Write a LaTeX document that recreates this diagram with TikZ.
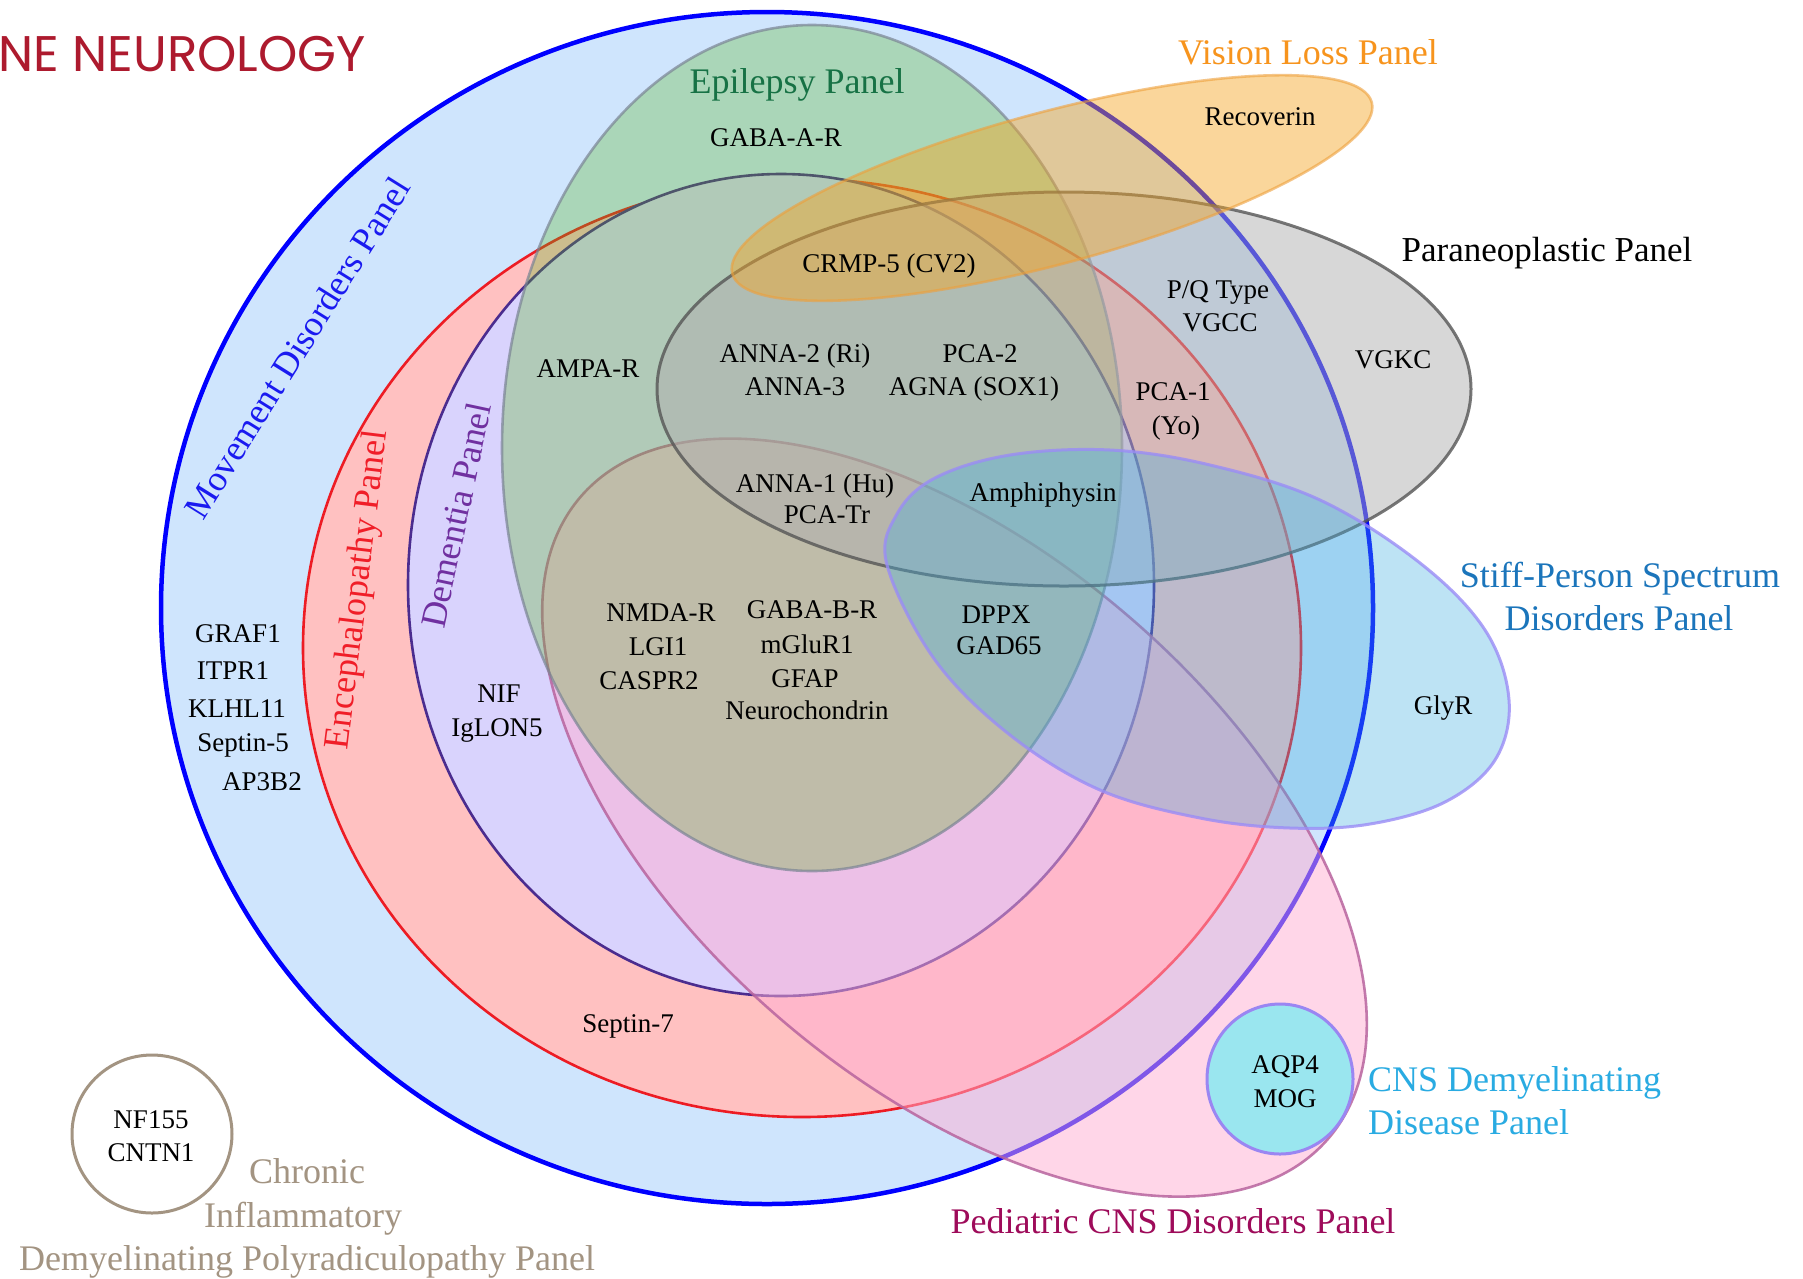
\documentclass[tikz,border=0pt]{standalone}
\usepackage{fontspec}
\setmainfont{Liberation Serif}
\newfontfamily\logofont{Poppins}
\definecolor{mvfill}{HTML}{CFE5FD}
\definecolor{mvline}{HTML}{0000FF}
\definecolor{enfill}{HTML}{FFC1C1}
\definecolor{enline}{HTML}{ED1C24}
\definecolor{defill}{HTML}{D9D3FD}
\definecolor{deline}{HTML}{4B2C8F}
\definecolor{pefill}{HTML}{FFAFD3}
\definecolor{peline}{HTML}{B8649E}
\definecolor{epfill}{HTML}{57B61B}
\definecolor{epline}{HTML}{7A8494}
\definecolor{pafill}{HTML}{B0B0B0}
\definecolor{paline}{HTML}{555555}
\definecolor{stfill}{HTML}{42AFE0}
\definecolor{stline}{HTML}{9A8CF6}
\definecolor{vifill}{HTML}{F5A623}
\definecolor{viline}{HTML}{EE9F3A}
\definecolor{cnfill}{HTML}{9AE6EF}
\definecolor{cnline}{HTML}{9A86F2}
\definecolor{ciline}{HTML}{A39482}
\definecolor{mvtext}{HTML}{1A1AF0}
\definecolor{entext}{HTML}{F01E28}
\definecolor{detext}{HTML}{7030A0}
\definecolor{eptext}{HTML}{177245}
\definecolor{vitext}{HTML}{F7941D}
\definecolor{sttext}{HTML}{1B75BB}
\definecolor{cntext}{HTML}{29ABE2}
\definecolor{petext}{HTML}{9E0B5A}
\definecolor{citext}{HTML}{A39482}
\definecolor{logored}{HTML}{AD1A2E}
\tikzset{
  item/.style={font=\fontsize{27}{32}\selectfont, anchor=base, inner sep=0pt, text=black},
  ptitle/.style={font=\fontsize{36}{42}\selectfont, anchor=base, inner sep=0pt},
  rtitle/.style={font=\fontsize{36}{42}\selectfont, anchor=center, inner sep=0pt},
}
\begin{document}
\begin{tikzpicture}[x=1pt,y=-1pt]
\useasboundingbox (0,0) rectangle (1803,1278);
\fill[white] (0,0) rectangle (1803,1278);

% Movement disorders
\fill[mvfill] (767,608) ellipse [x radius=606, y radius=596];
\draw[mvline, line width=4.5pt] (767,608) ellipse [x radius=606, y radius=596];
% Encephalopathy
\filldraw[fill=enfill, draw=enline, line width=2.6pt] (802,648) ellipse [x radius=499, y radius=469];
% Dementia
\filldraw[fill=defill, draw=deline, line width=2.6pt] (781,585) ellipse [x radius=373, y radius=411];
% Pediatric
\begin{scope}[shift={(954.5,817.6)}, rotate=-40.6]
\filldraw[fill=pefill, fill opacity=0.5, draw=peline, draw opacity=0.85, line width=2.6pt] (0,0) ellipse [x radius=492.7, y radius=266.1];
\end{scope}
% Epilepsy
\filldraw[fill=epfill, fill opacity=0.3, draw=epline, draw opacity=0.7, line width=2.6pt] (812,448) ellipse [x radius=310, y radius=423];
% Paraneoplastic
\filldraw[fill=pafill, fill opacity=0.5, draw=paline, draw opacity=0.8, line width=3pt] (1064,389) ellipse [x radius=407, y radius=197];
% Stiff-person
\filldraw[fill=stfill, fill opacity=0.35, draw=stline, draw opacity=0.8, line width=3pt]
  plot[smooth cycle, tension=0.6] coordinates {(887,565) (897,514) (935,478) (1010,455) (1110,450) (1210,465) (1320,500) (1420,563) (1485,630) (1509,700) (1495,760) (1445,802) (1370,824) (1290,828) (1200,818) (1100,790) (1010,735) (935,660)};
% Vision loss
\begin{scope}[shift={(1052,188)}, rotate=15]
\filldraw[fill=vifill, fill opacity=0.45, draw=viline, draw opacity=0.6, line width=2.6pt] (0,0) ellipse [x radius=331, y radius=76];
\end{scope}
% CNS demyelinating
\filldraw[fill=cnfill, draw=cnline, line width=3pt] (1280,1079) ellipse [x radius=73, y radius=75];
% CIDP
\draw[ciline, line width=3pt] (152,1134) ellipse [x radius=80, y radius=79];

% logo
\node[anchor=base east, inner sep=0pt, text=logored, font=\logofont\fontsize{50}{54}\selectfont] (logo) at (366,71) {NE NEUROLOGY};

% panel titles
\node[ptitle, text=eptext] (tEpi) at (797,93) {Epilepsy Panel};
\node[ptitle, text=vitext] (tVis) at (1308,64) {Vision Loss Panel};
\node[ptitle, text=black, font=\fontsize{35}{40}\selectfont] (tPar) at (1547,261) {Paraneoplastic Panel};
\node[ptitle, text=sttext] (tSt1) at (1620,587) {Stiff-Person Spectrum};
\node[ptitle, text=sttext] (tSt2) at (1619,630) {Disorders Panel};
\node[ptitle, text=cntext, anchor=base west] (tCn1) at (1368,1091) {CNS Demyelinating};
\node[ptitle, text=cntext, anchor=base west] (tCn2) at (1368,1134) {Disease Panel};
\node[ptitle, text=petext] (tPed) at (1173,1233) {Pediatric CNS Disorders Panel};
\node[ptitle, text=citext] (tCi1) at (307,1183) {Chronic};
\node[ptitle, text=citext] (tCi2) at (303,1227) {Inflammatory};
\node[ptitle, text=citext] (tCi3) at (307,1270) {Demyelinating Polyradiculopathy Panel};
\node[rtitle, text=mvtext, rotate=58] (tMov) at (297,348) {Movement Disorders Panel};
\node[rtitle, text=entext, rotate=83] (tEnc) at (359,590) {Encephalopathy Panel};
\node[rtitle, text=detext, rotate=78] (tDem) at (456,515) {Dementia Panel};

% antibody labels
\node[item] (gabaa) at (776,146) {GABA-A-R};
\node[item] (recov) at (1260,125) {Recoverin};
\node[item] (crmp) at (889,272) {CRMP-5 (CV2)};
\node[item] (pq) at (1218,298) {P/Q Type};
\node[item] (vgcc) at (1220,331) {VGCC};
\node[item] (vgkc) at (1393,368) {VGKC};
\node[item] (ampa) at (588,377) {AMPA-R};
\node[item] (anna2) at (795,362) {ANNA-2 (Ri)};
\node[item] (anna3) at (795,395) {ANNA-3};
\node[item] (pca2) at (980,362) {PCA-2};
\node[item] (agna) at (974,395) {AGNA (SOX1)};
\node[item] (pca1) at (1173,400) {PCA-1};
\node[item] (yo) at (1176,434) {(Yo)};
\node[item] (anna1) at (815,492) {ANNA-1 (Hu)};
\node[item] (pcatr) at (827,523) {PCA-Tr};
\node[item] (amph) at (1043,501) {Amphiphysin};
\node[item] (nmda) at (661,621) {NMDA-R};
\node[item] (lgi) at (658,655) {LGI1};
\node[item] (caspr) at (649,689) {CASPR2};
\node[item] (gabab) at (812,618) {GABA-B-R};
\node[item] (mglur) at (807,653) {mGluR1};
\node[item] (gfap) at (805,687) {GFAP};
\node[item] (neuro) at (807,719) {Neurochondrin};
\node[item] (dppx) at (996,623) {DPPX};
\node[item] (gad) at (999,654) {GAD65};
\node[item] (glyr) at (1443,714) {GlyR};
\node[item] (graf) at (238,642) {GRAF1};
\node[item] (itpr) at (233,679) {ITPR1};
\node[item] (klhl) at (237,717) {KLHL11};
\node[item] (sept5) at (243,751) {Septin-5};
\node[item] (ap3b2) at (262,790) {AP3B2};
\node[item] (nif) at (499,702) {NIF};
\node[item] (iglon) at (497,736) {IgLON5};
\node[item] (sept7) at (628,1032) {Septin-7};
\node[item] (aqp4) at (1285,1073) {AQP4};
\node[item] (mog) at (1285,1107) {MOG};
\node[item] (nf155) at (151,1128) {NF155};
\node[item] (cntn) at (151,1161) {CNTN1};
\end{tikzpicture}
\end{document}
